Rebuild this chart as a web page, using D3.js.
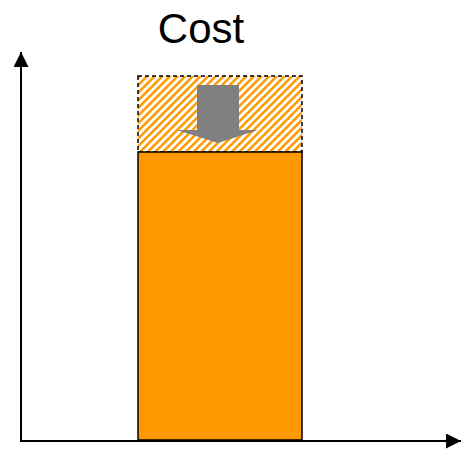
<!DOCTYPE html>
<html>
<head>
<meta charset="utf-8">
<script src="https://cdn.jsdelivr.net/npm/d3@7"></script>
<style>
  body { margin: 0; background: #fff; }
  svg { display: block; }
</style>
</head>
<body>
<div id="chart"></div>
<script>
// chart data
var categories = ["Cost"];
var currentCost = [72];
var previousCost = [91];
var title = "Cost";

var width = 461, height = 450;

var svg = d3.select("#chart").append("svg")
    .attr("width", width)
    .attr("height", height);

// scales
var x = d3.scaleBand()
    .domain(categories)
    .range([138, 302])
    .padding(0);

var y = d3.scaleLinear()
    .domain([0, 100])
    .range([440, 40]);

// hatch pattern for the old (higher) cost
var defs = svg.append("defs");
var pattern = defs.append("pattern")
    .attr("id", "hatch")
    .attr("patternUnits", "userSpaceOnUse")
    .attr("width", 5.4)
    .attr("height", 8)
    .attr("patternTransform", "rotate(45)");
pattern.append("rect")
    .attr("width", 5.4).attr("height", 8)
    .attr("fill", "#fff");
pattern.append("rect")
    .attr("width", 2.5).attr("height", 8)
    .attr("fill", "#ff9900");

var arrowHead = defs.append("marker")
    .attr("id", "axisArrow")
    .attr("viewBox", "0 0 10 10")
    .attr("refX", 10).attr("refY", 5)
    .attr("markerUnits", "userSpaceOnUse")
    .attr("markerWidth", 15).attr("markerHeight", 15)
    .attr("orient", "auto");
arrowHead.append("path")
    .attr("d", "M0,0 L10,5 L0,10 Z")
    .attr("fill", "#000");

// hatched previous cost
svg.selectAll(".prev")
    .data(categories)
    .enter().append("rect")
    .attr("class", "prev")
    .attr("x", function(d) { return x(d); })
    .attr("width", x.bandwidth())
    .attr("y", function(d, i) { return y(previousCost[i]); })
    .attr("height", function(d, i) { return y(currentCost[i]) - y(previousCost[i]); })
    .attr("fill", "url(#hatch)")
    .attr("stroke", "#000")
    .attr("stroke-width", 1.5)
    .attr("stroke-dasharray", "4,3");

// solid current cost
svg.selectAll(".bar")
    .data(categories)
    .enter().append("rect")
    .attr("class", "bar")
    .attr("x", function(d) { return x(d); })
    .attr("width", x.bandwidth())
    .attr("y", function(d, i) { return y(currentCost[i]); })
    .attr("height", function(d, i) { return y(0) - y(currentCost[i]); })
    .attr("fill", "#ff9900")
    .attr("stroke", "#000")
    .attr("stroke-width", 1.5);

// grey down arrow showing the reduction
svg.selectAll(".reduce")
    .data(categories)
    .enter().append("polygon")
    .attr("class", "reduce")
    .attr("fill", "#808080")
    .attr("points", function(d, i) {
      var cx = x(d) + x.bandwidth() / 2 - 2;
      var top = y(previousCost[i]) + 9;
      var tip = y(currentCost[i]) - 9;
      var neck = tip - 13;
      return [
        [cx - 21, top], [cx + 21, top], [cx + 21, neck], [cx + 40, neck],
        [cx, tip], [cx - 41, neck], [cx - 21, neck]
      ].join(" ");
    });

// axes
svg.append("line")
    .attr("x1", 21).attr("y1", y(0) + 1)
    .attr("x2", 21).attr("y2", 52)
    .attr("stroke", "#000").attr("stroke-width", 2)
    .attr("marker-end", "url(#axisArrow)");

svg.append("line")
    .attr("x1", 20).attr("y1", y(0) + 1)
    .attr("x2", 461).attr("y2", y(0) + 1)
    .attr("stroke", "#000").attr("stroke-width", 2)
    .attr("marker-end", "url(#axisArrow)");

// title
svg.append("text")
    .attr("x", 201)
    .attr("y", 43)
    .attr("text-anchor", "middle")
    .style("font-family", "Liberation Sans, Arial, sans-serif")
    .style("font-size", "42px")
    .text(title);
</script>
</body>
</html>
